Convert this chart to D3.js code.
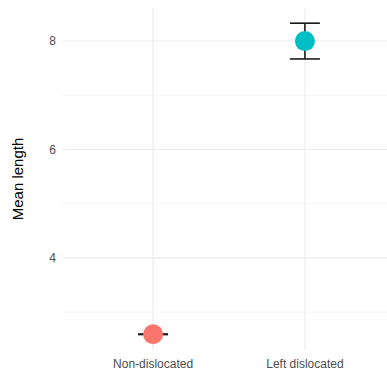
<!DOCTYPE html>
<html>
<head>
<meta charset="utf-8">
<script src="https://cdn.jsdelivr.net/npm/d3@7"></script>
<style>
  body { margin: 0; background: #fff; }
  text { font-family: "Liberation Sans", Arial, sans-serif; }
</style>
</head>
<body>
<div id="chart"></div>
<script>
// data
var groups = ['Non-dislocated', 'Left dislocated'];
var means = [2.59, 8.0];
var lower = [2.585, 7.67];
var upper = [2.595, 8.33];
var colors = ['#F8766D', '#00BFC4'];
var majorTicks = [4, 6, 8];
var minorTicks = [3, 5, 7];

var width = 387, height = 373;
var panel = { left: 62, right: 396, top: 8, bottom: 350 };

var svg = d3.select('#chart')
    .append('svg')
    .attr('width', width)
    .attr('height', height);

var x = d3.scalePoint()
    .domain(groups)
    .range([panel.left, panel.right])
    .padding(0.6);

var y = d3.scaleLinear()
    .domain([2.3, 8.61])
    .range([panel.bottom, panel.top]);

var grid = svg.append('g');

// minor grid
grid.selectAll('.minor')
    .data(minorTicks)
    .enter()
    .append('line')
    .attr('x1', panel.left)
    .attr('x2', width)
    .attr('y1', function(d) { return y(d); })
    .attr('y2', function(d) { return y(d); })
    .attr('stroke', '#f2f2f2')
    .attr('stroke-width', 0.8);

// major grid
grid.selectAll('.major')
    .data(majorTicks)
    .enter()
    .append('line')
    .attr('x1', panel.left)
    .attr('x2', width)
    .attr('y1', function(d) { return y(d); })
    .attr('y2', function(d) { return y(d); })
    .attr('stroke', '#ebebeb')
    .attr('stroke-width', 1.1);

grid.selectAll('.vgrid')
    .data(groups)
    .enter()
    .append('line')
    .attr('x1', function(d) { return x(d); })
    .attr('x2', function(d) { return x(d); })
    .attr('y1', panel.top)
    .attr('y2', panel.bottom)
    .attr('stroke', '#ebebeb')
    .attr('stroke-width', 1.1);

// y axis labels
svg.append('g')
    .selectAll('text')
    .data(majorTicks)
    .enter()
    .append('text')
    .attr('x', 56)
    .attr('y', function(d) { return y(d); })
    .attr('dy', '0.35em')
    .attr('text-anchor', 'end')
    .attr('font-size', '12px')
    .attr('fill', '#4d4d4d')
    .text(function(d) { return d; });

// x axis labels
svg.append('g')
    .selectAll('text')
    .data(groups)
    .enter()
    .append('text')
    .attr('x', function(d) { return x(d); })
    .attr('y', 368)
    .attr('text-anchor', 'middle')
    .attr('font-size', '12px')
    .attr('fill', '#4d4d4d')
    .text(function(d) { return d; });

// y title
svg.append('text')
    .attr('transform', 'translate(23,' + ((panel.top + panel.bottom) / 2) + ') rotate(-90)')
    .attr('text-anchor', 'middle')
    .attr('font-size', '15px')
    .attr('fill', '#000')
    .text('Mean length');

// error bars
var capHalf = 15;
var eb = svg.append('g')
    .selectAll('g')
    .data(groups)
    .enter()
    .append('g')
    .attr('stroke', '#1a1a1a')
    .attr('stroke-width', 1.6);

eb.append('line')
    .attr('x1', function(d) { return x(d); })
    .attr('x2', function(d) { return x(d); })
    .attr('y1', function(d, i) { return y(lower[i]); })
    .attr('y2', function(d, i) { return y(upper[i]); });
eb.append('line')
    .attr('x1', function(d) { return x(d) - capHalf; })
    .attr('x2', function(d) { return x(d) + capHalf; })
    .attr('y1', function(d, i) { return y(lower[i]); })
    .attr('y2', function(d, i) { return y(lower[i]); });
eb.append('line')
    .attr('x1', function(d) { return x(d) - capHalf; })
    .attr('x2', function(d) { return x(d) + capHalf; })
    .attr('y1', function(d, i) { return y(upper[i]); })
    .attr('y2', function(d, i) { return y(upper[i]); });

// points
svg.append('g')
    .selectAll('circle')
    .data(groups)
    .enter()
    .append('circle')
    .attr('cx', function(d) { return x(d); })
    .attr('cy', function(d, i) { return y(means[i]); })
    .attr('r', 10)
    .attr('fill', function(d, i) { return colors[i]; });
</script>
</body>
</html>
